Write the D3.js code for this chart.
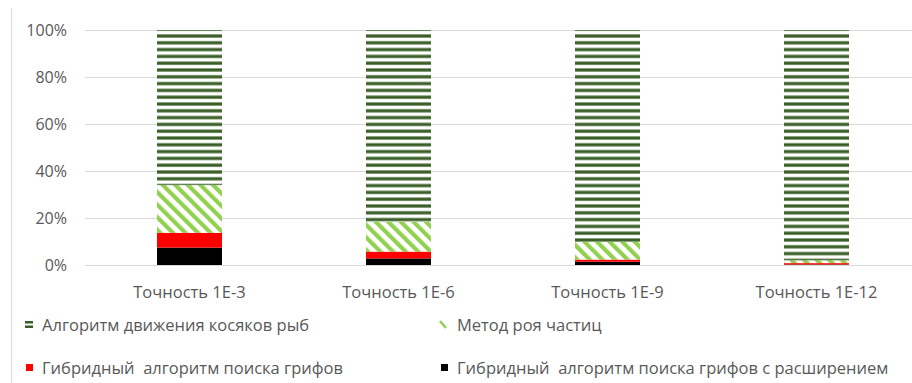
<!DOCTYPE html>
<html>
<head>
<meta charset="utf-8">
<script src="https://cdn.jsdelivr.net/npm/d3@7"></script>
<style>
  body { margin: 0; background: #fff; }
  text { font-family: "Open Sans", "Noto Sans", sans-serif; fill: #595959; white-space: pre; }
</style>
</head>
<body>
<script>
const categories = ["Точность 1E-3", "Точность 1E-6", "Точность 1E-9", "Точность 1E-12"];
const seriesNames = [
  "Гибридный  алгоритм поиска грифов с расширением",
  "Гибридный  алгоритм поиска грифов",
  "Метод роя частиц",
  "Алгоритм движения косяков рыб"
];
const hybridExt = [7.4, 2.8, 1.4, 0.2];
const hybrid = [6.3, 2.9, 0.9, 0.6];
const pso = [20.3, 12.6, 7.5, 1.2];
const fish = [66.0, 81.7, 90.2, 98.0];
const yTicks = [0, 20, 40, 60, 80, 100];

const width = 912, height = 383;
const margin = {top: 30, right: -9, bottom: 118, left: 85};

const svg = d3.select("body").append("svg")
    .attr("width", width)
    .attr("height", height);

const defs = svg.append("defs");
const fishPat = defs.append("pattern")
    .attr("id", "fish")
    .attr("patternUnits", "userSpaceOnUse")
    .attr("width", 8).attr("height", 6.8);
fishPat.append("rect").attr("width", 8).attr("height", 6.8).attr("fill", "#fff");
fishPat.append("rect").attr("y", 0.4).attr("width", 8).attr("height", 3.2).attr("fill", "#3A5F26");

const psoPat = defs.append("pattern")
    .attr("id", "pso")
    .attr("patternUnits", "userSpaceOnUse")
    .attr("width", 8.9).attr("height", 8.9)
    .attr("patternTransform", "rotate(-45)");
psoPat.append("rect").attr("width", 8.9).attr("height", 8.9).attr("fill", "#fff");
psoPat.append("rect").attr("width", 4.2).attr("height", 8.9).attr("fill", "#92D050");

const fills = ["#000000", "#FF0000", "url(#pso)", "url(#fish)"];

const rows = categories.map((c, i) => ({
  cat: c, s0: hybridExt[i], s1: hybrid[i], s2: pso[i], s3: fish[i]
}));
const stack = d3.stack().keys(["s0", "s1", "s2", "s3"])(rows);

const x = d3.scaleBand()
    .domain(categories)
    .range([margin.left, width - margin.right])
    .paddingInner(0.689)
    .paddingOuter(0.3445);

const y = d3.scaleLinear()
    .domain([0, 100])
    .range([height - margin.bottom, margin.top]);

// chart border on the left
svg.append("line")
    .attr("x1", 11.5).attr("x2", 11.5)
    .attr("y1", 8).attr("y2", height)
    .attr("stroke", "#D9D9D9");

// gridlines
svg.append("g")
  .selectAll("line")
  .data(yTicks)
  .join("line")
    .attr("x1", margin.left).attr("x2", width)
    .attr("y1", d => Math.round(y(d)) + 0.5)
    .attr("y2", d => Math.round(y(d)) + 0.5)
    .attr("stroke", "#D9D9D9");

// y axis labels
svg.append("g")
    .attr("transform", `translate(67,0)`)
    .call(d3.axisLeft(y).tickValues(yTicks).tickSize(0).tickPadding(0).tickFormat(d => d + "%"))
    .call(g => g.select(".domain").remove())
    .call(g => g.selectAll("text")
        .attr("font-size", 16)
        .attr("font-family", null)
        .attr("fill", null));

// bars
svg.append("g")
  .selectAll("g")
  .data(stack)
  .join("g")
    .attr("fill", (d, i) => fills[i])
  .selectAll("rect")
  .data(d => d)
  .join("rect")
    .attr("x", d => x(d.data.cat))
    .attr("y", d => y(d[1]))
    .attr("height", d => y(d[0]) - y(d[1]))
    .attr("width", x.bandwidth());

// x axis labels
svg.append("g")
    .attr("transform", `translate(0,${y(0) + 21})`)
    .call(d3.axisBottom(x).tickSize(0).tickPadding(0))
    .call(g => g.select(".domain").remove())
    .call(g => g.selectAll("text")
        .attr("font-size", 16.5)
        .attr("font-family", null)
        .attr("fill", null));

// legend
const legendItems = [
  {name: seriesNames[3], kind: "fish", x: 25, y: 325},
  {name: seriesNames[2], kind: "pso", x: 440, y: 325},
  {name: seriesNames[1], kind: "red", x: 26, y: 368},
  {name: seriesNames[0], kind: "black", x: 441, y: 368}
];
const lg = svg.append("g").selectAll("g")
  .data(legendItems)
  .join("g")
    .attr("transform", d => `translate(${d.x},${d.y})`);

lg.each(function(d) {
  const g = d3.select(this);
  if (d.kind === "fish") {
    g.append("rect").attr("x", 0).attr("y", -4).attr("width", 8).attr("height", 2.5).attr("fill", "#3A5F26");
    g.append("rect").attr("x", 0).attr("y", 0.5).attr("width", 8).attr("height", 2.5).attr("fill", "#3A5F26");
  } else if (d.kind === "pso") {
    g.append("line").attr("x1", 0).attr("y1", -4).attr("x2", 6).attr("y2", 3)
      .attr("stroke", "#92D050").attr("stroke-width", 2.5);
  } else {
    g.append("rect").attr("x", 0).attr("y", -4).attr("width", 7).attr("height", 7)
      .attr("fill", d.kind === "red" ? "#FF0000" : "#000000");
  }
  g.append("text")
    .attr("x", d.kind === "red" || d.kind === "black" ? 16 : 17)
    .attr("dy", "0.35em")
    .attr("font-size", 16.5)
    .text(d.name);
});
</script>
</body>
</html>
